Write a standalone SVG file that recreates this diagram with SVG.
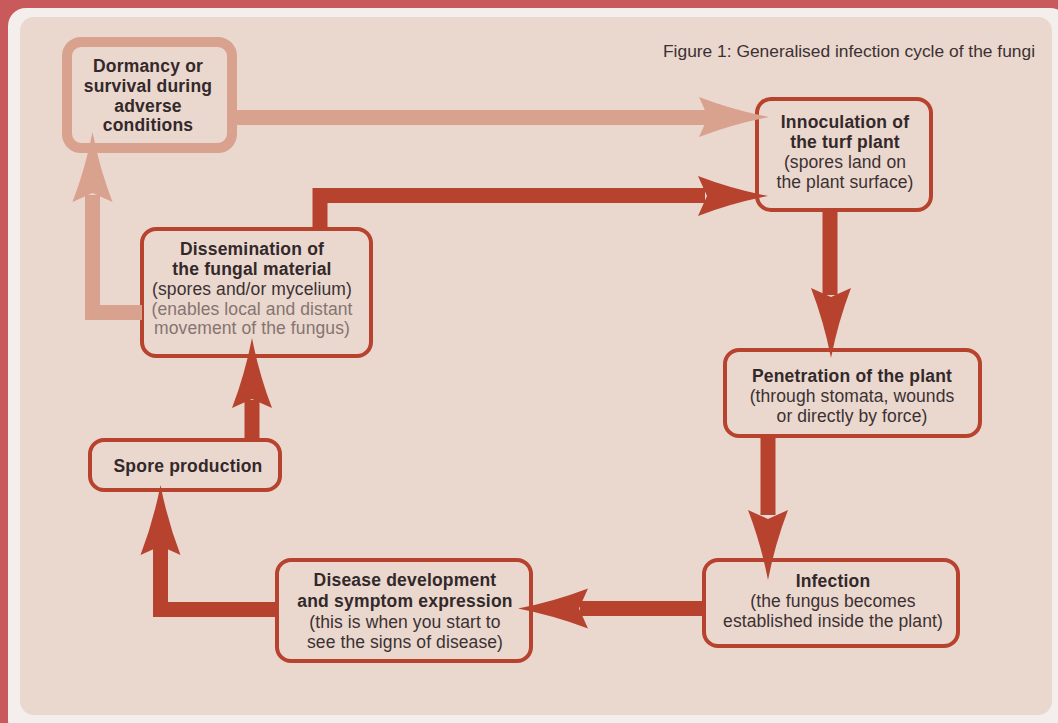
<svg xmlns="http://www.w3.org/2000/svg" width="1058" height="723" viewBox="0 0 1058 723">
<defs>
<style>
.bx{fill:#ead7ce;stroke:#b7432f;stroke-width:4}
.bxl{fill:#ead7ce;stroke:#d9a28e;stroke-width:10}
.b{font-family:"Liberation Sans",Arial,sans-serif;font-weight:bold;font-size:17.5px;letter-spacing:0.2px;fill:#33292a;text-anchor:middle}
.r{font-family:"Liberation Sans",Arial,sans-serif;font-size:17.5px;letter-spacing:0.1px;fill:#3b3132;text-anchor:middle}
.g{font-family:"Liberation Sans",Arial,sans-serif;font-size:17.5px;letter-spacing:0.1px;fill:#857470;text-anchor:middle}
.sd{fill:none;stroke:#b7432f;stroke-width:15}
.sl{fill:none;stroke:#d9a28e;stroke-width:15}
.hd{fill:#b7432f}
.hl{fill:#d9a28e}
</style>
<path id="head" d="M0,0 Q-36,-7 -70,-20 L-61,0 L-70,20 Q-36,7 0,0 Z"/>
</defs>
<rect x="0" y="0" width="1058" height="723" fill="#c85a5c"/>
<rect x="8" y="8" width="1060" height="730" rx="18" fill="#f4eeec"/>
<rect x="20" y="17" width="1032" height="698" rx="14" fill="#ead7ce"/>
<text x="1035" y="57" font-family="'Liberation Sans',Arial,sans-serif" font-size="16.5" fill="#3b3132" text-anchor="end" textLength="372" lengthAdjust="spacingAndGlyphs">Figure 1: Generalised infection cycle of the fungi</text>

<g id="dormancy">
<rect class="bxl" x="67" y="42" width="165" height="106" rx="14"/>
<text class="b" x="148" y="72">Dormancy or</text>
<text class="b" x="148" y="92">survival during</text>
<text class="b" x="148" y="112">adverse</text>
<text class="b" x="148" y="131">conditions</text>
</g>
<g id="innoculation">
<rect class="bx" x="757" y="99" width="174" height="111" rx="14"/>
<text class="b" x="845" y="128">Innoculation of</text>
<text class="b" x="845" y="148">the turf plant</text>
<text class="r" x="845" y="168">(spores land on</text>
<text class="r" x="845" y="188">the plant surface)</text>
</g>
<g id="dissemination">
<rect class="bx" x="142" y="229" width="229" height="127" rx="14"/>
<text class="b" x="252" y="255">Dissemination of</text>
<text class="b" x="252" y="275">the fungal material</text>
<text class="r" x="252" y="295">(spores and/or mycelium)</text>
<text class="g" x="252" y="315">(enables local and distant</text>
<text class="g" x="252" y="334">movement of the fungus)</text>
</g>
<g id="penetration">
<rect class="bx" x="725" y="350" width="255" height="86" rx="14"/>
<text class="b" x="852" y="382">Penetration of the plant</text>
<text class="r" x="852" y="402">(through stomata, wounds</text>
<text class="r" x="852" y="422">or directly by force)</text>
</g>
<g id="infection">
<rect class="bx" x="704" y="560" width="254" height="86" rx="14"/>
<text class="b" x="833" y="587">Infection</text>
<text class="r" x="833" y="607">(the fungus becomes</text>
<text class="r" x="833" y="627">established inside the plant)</text>
</g>
<g id="disease">
<rect class="bx" x="277" y="560" width="254" height="101" rx="14"/>
<text class="b" x="405" y="586">Disease development</text>
<text class="b" x="405" y="607">and symptom expression</text>
<text class="r" x="405" y="628">(this is when you start to</text>
<text class="r" x="405" y="648">see the signs of disease)</text>
</g>
<g id="spore">
<rect class="bx" x="90" y="440" width="190" height="50" rx="14"/>
<text class="b" x="188" y="472">Spore production</text>
</g>

<g id="connectors">
<path class="sl" d="M232,117.5 H710"/>
<use href="#head" class="hl" transform="translate(769,117)"/>
<path class="sl" d="M142,312.5 H92.5 V195"/>
<use href="#head" class="hl" transform="translate(92.5,132) rotate(-90)"/>
<path class="sd" d="M320,229 V195.5 H705"/>
<use href="#head" class="hd" transform="translate(768,196)"/>
<path class="sd" d="M830,210 V295"/>
<use href="#head" class="hd" transform="translate(831,358) rotate(90)"/>
<path class="sd" d="M768,436 V515"/>
<use href="#head" class="hd" transform="translate(768,580) rotate(90)"/>
<path class="sd" d="M704,608.5 H580"/>
<use href="#head" class="hd" transform="translate(518,608.5) rotate(180)"/>
<path class="sd" d="M277,609.5 H160.5 V545"/>
<use href="#head" class="hd" transform="translate(160.5,485) rotate(-90)"/>
<path class="sd" d="M252,440 V400"/>
<use href="#head" class="hd" transform="translate(252,338) rotate(-90)"/>
</g>
</svg>
